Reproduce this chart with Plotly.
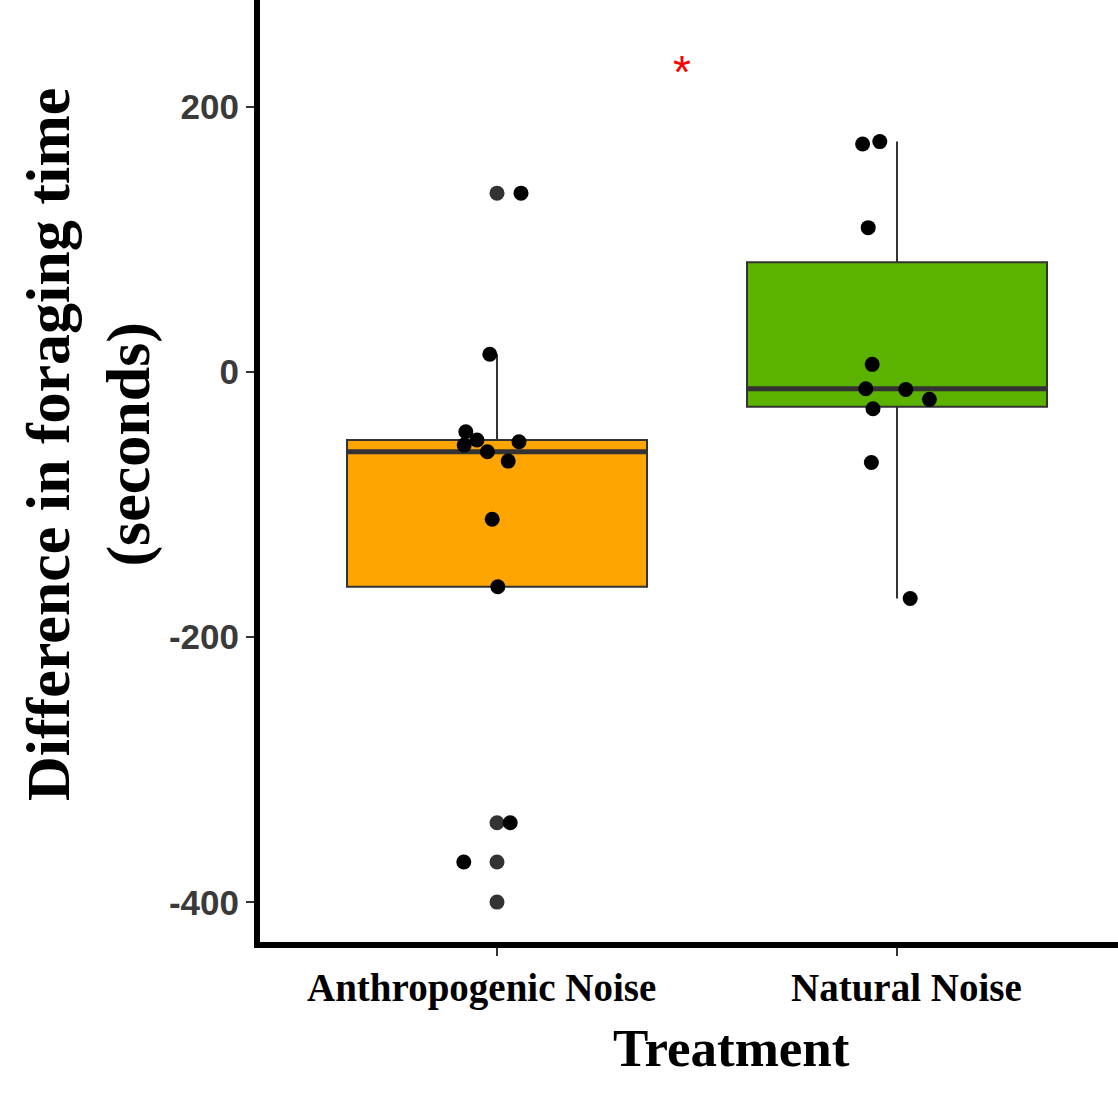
import plotly.graph_objects as go

# ---- data ----
categories = ["Anthropogenic Noise", "Natural Noise"]
cat_pos = [1, 2]

q1 = [-162.0, -26.2]
median = [-60.2, -12.6]
q3 = [-51.3, 82.8]
lowerfence = [-162.0, -170.8]
upperfence = [13.4, 173.8]

outliers_anthro = [134.9, -340.0, -369.6, -399.8]

anthro_points = [134.9, 13.4, -45.0, -51.3, -55.1, -52.6, -60.1, -67.2, -111.0, -162.0, -340.0, -369.6]
anthro_jitter = [0.060, -0.018, -0.078, -0.050, -0.082, 0.055, -0.024, 0.028, -0.012, 0.002, 0.033, -0.083]

natural_points = [172.0, 173.8, 108.9, 5.8, -12.6, -13.1, -20.6, -27.7, -68.2, -170.8]
natural_jitter = [-0.086, -0.043, -0.072, -0.062, -0.078, 0.022, 0.081, -0.060, -0.064, 0.033]

fills = ["#FFA500", "#5BB300"]
y_ticks = [-400, -200, 0, 200]

sig_label = "*"
sig_x = 1.4625
sig_y = 226

BOX_W = 0.75
EDGE = "#333333"

fig = go.Figure()

for i in range(2):
    fig.add_trace(go.Box(
        x=[cat_pos[i]], q1=[q1[i]], median=[median[i]], q3=[q3[i]],
        lowerfence=[lowerfence[i]], upperfence=[upperfence[i]],
        width=BOX_W, fillcolor=fills[i], line=dict(color=EDGE, width=2),
        whiskerwidth=0, boxpoints=False, showlegend=False, hoverinfo="skip",
    ))
    fig.add_trace(go.Scatter(
        x=[cat_pos[i] - BOX_W / 2, cat_pos[i] + BOX_W / 2], y=[median[i], median[i]],
        mode="lines", line=dict(color=EDGE, width=5), showlegend=False, hoverinfo="skip",
    ))

fig.add_trace(go.Scatter(
    x=[cat_pos[0]] * len(outliers_anthro), y=outliers_anthro, mode="markers",
    marker=dict(color="#333333", size=15, line=dict(width=0)), showlegend=False,
))

fig.add_trace(go.Scatter(
    x=[cat_pos[0] + j for j in anthro_jitter], y=anthro_points, mode="markers",
    marker=dict(color="black", size=15, line=dict(width=0)), showlegend=False,
))
fig.add_trace(go.Scatter(
    x=[cat_pos[1] + j for j in natural_jitter], y=natural_points, mode="markers",
    marker=dict(color="black", size=15, line=dict(width=0)), showlegend=False,
))

fig.add_annotation(x=sig_x, y=sig_y, xref="x", yref="y", text=sig_label, showarrow=False,
                   font=dict(family="Liberation Sans", size=46, color="red"),
                   xanchor="center", yanchor="middle")

# category labels (slightly off-centre in the reference)
label_shift = [-16, 9]
for i in range(2):
    fig.add_annotation(x=cat_pos[i], y=-0.0485, xref="x", yref="paper",
                       text="<b>%s</b>" % categories[i], showarrow=False, xshift=label_shift[i],
                       font=dict(family="Liberation Serif", size=39, color="black"),
                       xanchor="center", yanchor="middle")

# axis titles as annotations (reference is cropped, so positions are set explicitly)
fig.add_annotation(x=-0.2, y=0.528, xref="paper", yref="paper",
                   text="<b>Difference in foraging time<br>(seconds)</b>", showarrow=False,
                   textangle=-90, font=dict(family="Liberation Serif", size=62, color="black"),
                   xanchor="center", yanchor="middle")
fig.add_annotation(x=0.549, y=-0.112, xref="paper", yref="paper",
                   text="<b>Treatment</b>", showarrow=False,
                   font=dict(family="Liberation Serif", size=53, color="black"),
                   xanchor="center", yanchor="middle")

fig.update_layout(
    width=1118, height=1100,
    margin=dict(l=260, r=0, t=0, b=158),
    plot_bgcolor="white", paper_bgcolor="white",
    xaxis=dict(
        range=[0.4075, 2.5525], tickvals=cat_pos, showticklabels=False,
        showline=True, linewidth=6, linecolor="black", ticks="outside", ticklen=8,
        tickwidth=1.5, tickcolor=EDGE, showgrid=False, zeroline=False,
    ),
    yaxis=dict(
        range=[-429.9, 280.6], tickvals=y_ticks, ticktext=["<b>%d</b>" % v for v in y_ticks],
        showline=True, linewidth=6, linecolor="black", ticks="outside", ticklen=8,
        tickwidth=1.5, tickcolor=EDGE, showgrid=False, zeroline=False,
        tickfont=dict(family="Liberation Sans", size=35, color="#3a3a3a"),
    ),
)

fig.write_html("out.html", config={"displayModeBar": False},
               post_script="document.body.style.margin='0';")
